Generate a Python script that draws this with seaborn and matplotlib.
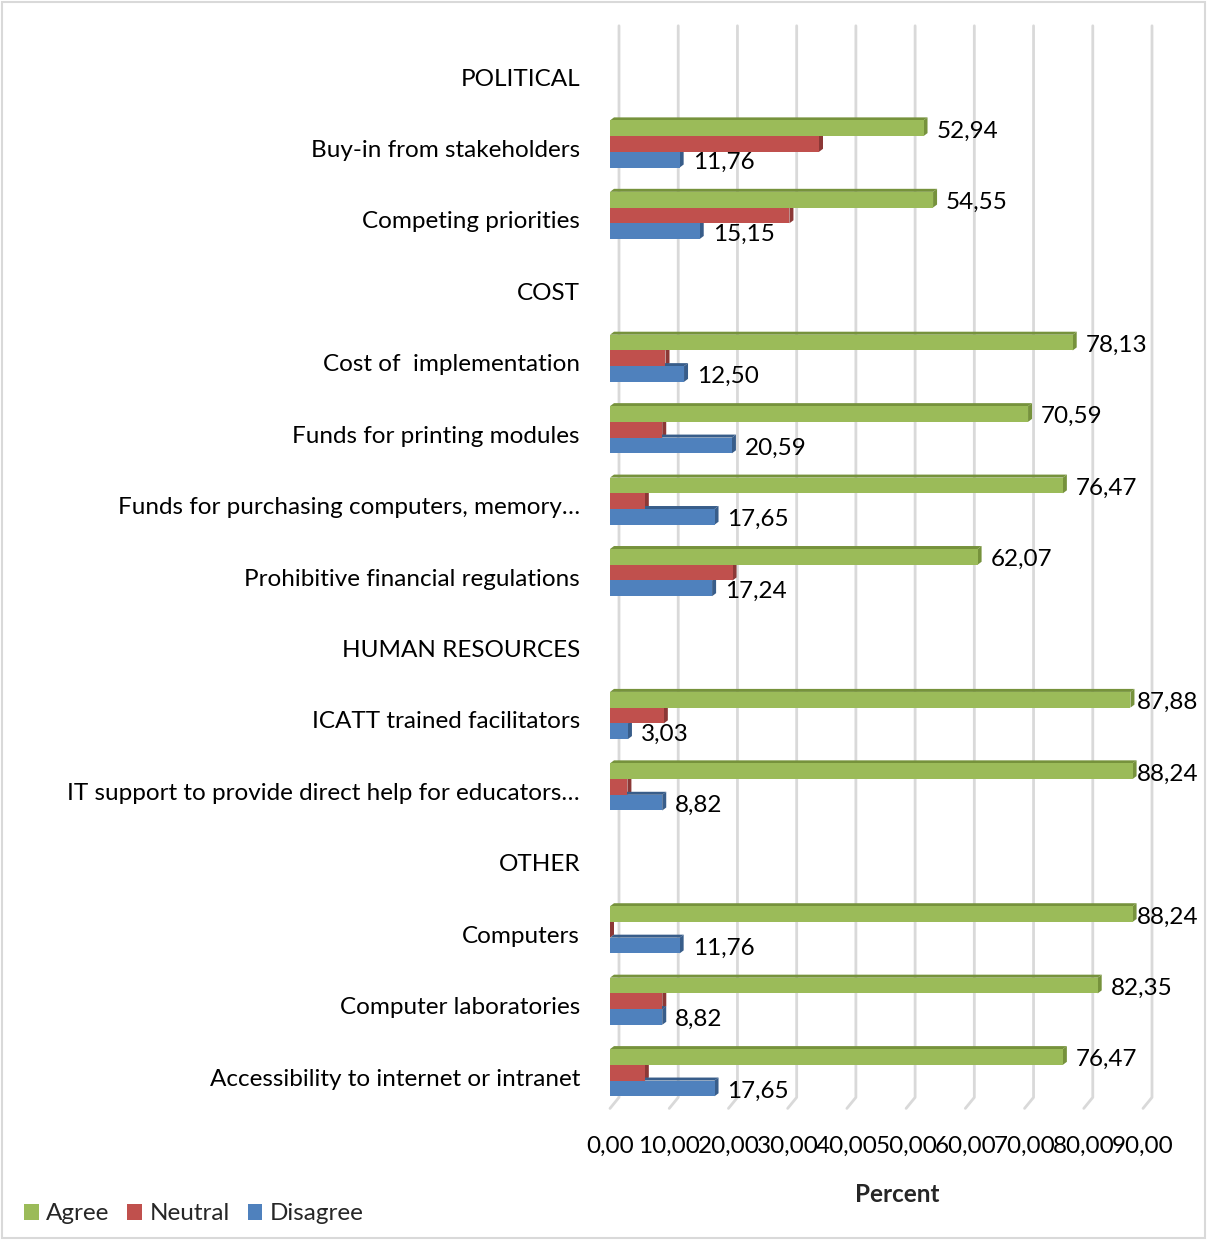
import numpy as np
import pandas as pd
import matplotlib
import matplotlib.pyplot as plt
from matplotlib.patches import Polygon, Rectangle, Patch
from matplotlib.lines import Line2D
from matplotlib.transforms import IdentityTransform, ScaledTranslation
import seaborn as sns

# ---------------- data ----------------
categories = [
    "POLITICAL",
    "Buy-in from stakeholders",
    "Competing priorities",
    "COST",
    "Cost of  implementation",
    "Funds for printing modules",
    "Funds for purchasing computers, memory…",
    "Prohibitive financial regulations",
    "HUMAN RESOURCES",
    "ICATT trained facilitators",
    "IT support to provide direct help for educators…",
    "OTHER",
    "Computers",
    "Computer laboratories",
    "Accessibility to internet or intranet",
]
items = [
    "Buy-in from stakeholders",
    "Competing priorities",
    "Cost of  implementation",
    "Funds for printing modules",
    "Funds for purchasing computers, memory…",
    "Prohibitive financial regulations",
    "ICATT trained facilitators",
    "IT support to provide direct help for educators…",
    "Computers",
    "Computer laboratories",
    "Accessibility to internet or intranet",
]
agree = [52.94, 54.55, 78.13, 70.59, 76.47, 62.07, 87.88, 88.24, 88.24, 82.35, 76.47]
neutral = [35.29, 30.30, 9.37, 8.82, 5.88, 20.69, 9.09, 2.94, 0.00, 8.83, 5.88]
disagree = [11.76, 15.15, 12.50, 20.59, 17.65, 17.24, 3.03, 8.82, 11.76, 8.82, 17.65]
responses = ["Agree", "Neutral", "Disagree"]
x_ticks = [0, 10, 20, 30, 40, 50, 60, 70, 80, 90]

colors = ["#9BBB59", "#C0504D", "#4F81BD"]
dark = ["#76923C", "#8C3836", "#385D8A"]

df = pd.DataFrame({
    "item": items * 3,
    "response": [r for r in responses for _ in items],
    "value": agree + neutral + disagree,
})

# ---------------- figure ----------------
sns.set_theme(style="white")
plt.rcParams["font.family"] = ["Lato", "DejaVu Sans"]
FS = 17.5
W, H = 1207, 1240
fig = plt.figure(figsize=(W / 100, H / 100), dpi=100)
SHIFT = 4.5  # bars sit slightly above the category label centres
ax_l, ax_r, ax_t, ax_b = 610, 1143, 41.3 - SHIFT, 1112.9 - SHIFT
ax = fig.add_axes([ax_l / W, 1 - ax_b / H, (ax_r - ax_l) / W, (ax_b - ax_t) / H])

sns.barplot(data=df, y="item", x="value", hue="response", order=categories,
            hue_order=responses, palette=colors, orient="h", width=0.66,
            saturation=1, errorbar=None, legend=False, ax=ax, zorder=2,
            linewidth=0)

ax.set_xlim(0, 90)
ax.set_ylim(len(categories) - 0.5, -0.5)
ax.set_xticks(x_ticks)
ax.set_xticklabels([f"{v:.2f}".replace(".", ",") for v in x_ticks])
ax.set_xlabel("")
ax.set_ylabel("")
for s in ax.spines.values():
    s.set_visible(False)
ax.tick_params(axis="y", length=0, pad=21.6, labelsize=FS, colors="black")
ax.tick_params(axis="x", length=0, pad=19.5, labelsize=FS, colors="black")
ax.grid(False)
off = ScaledTranslation(0, -SHIFT / 100, fig.dpi_scale_trans)
for lab in ax.get_yticklabels():
    lab.set_transform(lab.get_transform() + off)

fig.canvas.draw()
idt = IdentityTransform()
DX, DY = 4, 3

# back-wall gridlines with 3D floor diagonals
GX, GY = 9, 11
for v in x_ticks:
    fb = ax.transData.transform((v, len(categories) - 0.5))
    ft = ax.transData.transform((v, -0.5))
    pts = np.array([fb, fb + [GX, GY], ft + [GX, GY]])
    ax.add_line(Line2D(pts[:, 0], pts[:, 1], transform=idt, color="#D9D9D9",
                       lw=2, zorder=0.5, clip_on=False))

# 3D faces of bars
for ci, cont in enumerate(ax.containers):
    for p in cont:
        bb = p.get_bbox()
        (x0, ya), (x1, yb) = ax.transData.transform([(bb.x0, bb.y0), (bb.x1, bb.y1)])
        ytop, ybot = max(ya, yb), min(ya, yb)
        top = [(x0, ytop), (x1, ytop), (x1 + DX, ytop + DY), (x0 + DX, ytop + DY)]
        right = [(x1, ybot), (x1, ytop), (x1 + DX, ytop + DY), (x1 + DX, ybot + DY)]
        for poly in (top, right):
            ax.add_patch(Polygon(poly, closed=True, transform=idt, facecolor=dark[ci],
                                 edgecolor="none", zorder=1.9, clip_on=False))

# value labels for Agree and Disagree
for ci, vals in ((0, agree), (2, disagree)):
    cont = ax.containers[ci]
    for p, v in zip(cont, vals):
        bb = p.get_bbox()
        yc = (bb.y0 + bb.y1) / 2
        end_px = ax.transData.transform((bb.x1, yc))[0]
        pad_px = min(13, 1199 - 62 - end_px)
        ax.annotate(f"{v:.2f}".replace(".", ","), xy=(bb.x1, yc),
                    xytext=(pad_px * 0.72, -2), textcoords="offset points",
                    ha="left", va="center", fontsize=FS, color="black",
                    annotation_clip=False)

fig.text(897 / W, 1 - 1195 / H, "Percent", ha="center", va="center",
         fontsize=FS, fontweight="bold")

handles = [Patch(facecolor=c, edgecolor="none") for c in colors]
fig.legend(handles, responses, loc="center left", bbox_to_anchor=(24 / W, 1 - 1214 / H),
           ncol=3, frameon=False, fontsize=FS, handlelength=0.6, handleheight=0.6,
           handletextpad=0.3, columnspacing=0.75, borderpad=0, borderaxespad=0)

fig.add_artist(Rectangle((0.002, 0.002), 0.996, 0.996, transform=fig.transFigure,
                         fill=False, edgecolor="#D9D9D9", lw=1.5))

fig.savefig("out.png", dpi=100)
